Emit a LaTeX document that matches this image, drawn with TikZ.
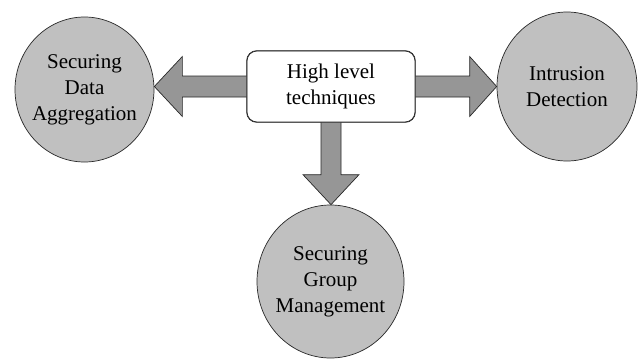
\documentclass[tikz,border=0pt]{standalone}
\usepackage{fontspec}
\setmainfont{Liberation Serif}
\usetikzlibrary{shapes.geometric,calc}
\definecolor{topicgray}{RGB}{192,192,192}
\definecolor{arrowgray}{RGB}{150,150,150}
\definecolor{edgegray}{RGB}{40,40,40}
\tikzset{
  label text/.style={font=\fontsize{21}{26}\selectfont, align=center, text=black, inner sep=0pt},
  topic/.style={ellipse, draw=edgegray, line width=0.7pt, fill=topicgray, inner sep=0pt},
  hubbox/.style={rectangle, rounded corners=10pt, draw=edgegray, line width=0.7pt, fill=white,
                 minimum width=168pt, minimum height=71pt, label text},
  bigarrow/.style={draw=edgegray, line width=0.7pt, fill=arrowgray, line join=miter}
}
\begin{document}
\begin{tikzpicture}[x=1pt,y=-1pt]
  \useasboundingbox (0,0) rectangle (638,359);

  % central box
  \node[hubbox] (hub) at (331,86.5) {High level\\techniques};

  % the three topics: ellipse outlines, then their captions
  \node[topic, minimum width=139pt, minimum height=145pt] (lc) at (84.5,89.5) {};
  \node[topic, minimum width=140pt, minimum height=149pt] (rc) at (567,86.5) {};
  \node[topic, minimum width=147pt, minimum height=153pt] (bc) at (330.5,281.5) {};
  \node[label text] (lct) at (lc) {Securing\\Data\\Aggregation};
  \node[label text] (rct) at (rc) {Intrusion\\Detection};
  \node[label text] (bct) at (bc) {Securing\\Group\\Management};

  % block arrows from the box to each topic
  \coordinate (ltip) at (lc.east |- hub.west);
  \draw[bigarrow] ($(hub.west)+(0,-10.5)$) -- ($(ltip)+(28,-10.5)$) -- ($(ltip)+(28,-30)$)
    -- (ltip) -- ($(ltip)+(28,30)$) -- ($(ltip)+(28,10.5)$) -- ($(hub.west)+(0,10.5)$);

  \coordinate (rtip) at (rc.west |- hub.east);
  \draw[bigarrow] ($(hub.east)+(0,-10.5)$) -- ($(rtip)+(-27,-10.5)$) -- ($(rtip)+(-27,-30)$)
    -- (rtip) -- ($(rtip)+(-27,30)$) -- ($(rtip)+(-27,10.5)$) -- ($(hub.east)+(0,10.5)$);

  \coordinate (btip) at (hub.south |- bc.north);
  \draw[bigarrow] ($(hub.south)+(-10,0)$) -- ($(btip)+(-10,-30)$) -- ($(btip)+(-28,-30)$)
    -- (btip) -- ($(btip)+(28,-30)$) -- ($(btip)+(10,-30)$) -- ($(hub.south)+(10,0)$);

  % redraw the box edge over the arrow shafts
  \draw[edgegray, line width=0.7pt, rounded corners=10pt] (hub.south west) rectangle (hub.north east);
\end{tikzpicture}
\end{document}
